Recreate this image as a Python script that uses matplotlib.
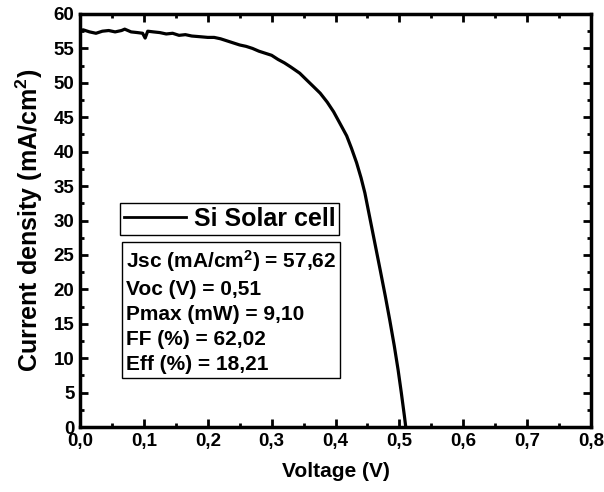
import matplotlib
matplotlib.use("Agg")
import matplotlib.pyplot as plt
from matplotlib.ticker import MultipleLocator, FuncFormatter
from matplotlib.lines import Line2D

plt.rcParams['font.family'] = ['Liberation Sans', 'DejaVu Sans']
plt.rcParams['font.weight'] = 'bold'
plt.rcParams['mathtext.fontset'] = 'custom'
plt.rcParams['mathtext.rm'] = 'Liberation Sans:bold'
plt.rcParams['mathtext.bf'] = 'Liberation Sans:bold'
plt.rcParams['mathtext.it'] = 'Liberation Sans:bold'
plt.rcParams['mathtext.default'] = 'bf'

voltage = [0.000, 0.005, 0.015, 0.025, 0.035, 0.045, 0.055, 0.065, 0.070, 0.080,
           0.090, 0.098, 0.102, 0.106, 0.115, 0.125, 0.135, 0.145, 0.155, 0.165,
           0.175, 0.188, 0.200, 0.210, 0.220, 0.230, 0.240, 0.250, 0.260, 0.270,
           0.280, 0.290, 0.300, 0.310, 0.320, 0.330, 0.344, 0.355, 0.365, 0.376,
           0.387, 0.397, 0.407, 0.4175, 0.425, 0.433, 0.440, 0.446, 0.452, 0.458,
           0.464, 0.470, 0.478, 0.485, 0.492, 0.498, 0.503, 0.508, 0.510]
current = [57.6, 57.7, 57.4, 57.2, 57.5, 57.6, 57.4, 57.6, 57.8, 57.4,
           57.3, 57.2, 56.5, 57.5, 57.4, 57.3, 57.1, 57.2, 56.9, 57.0,
           56.8, 56.7, 56.6, 56.6, 56.4, 56.1, 55.8, 55.5, 55.3, 55.0,
           54.6, 54.3, 54.0, 53.4, 52.9, 52.3, 51.4, 50.4, 49.5, 48.5,
           47.2, 45.8, 44.1, 42.3, 40.5, 38.4, 36.2, 34.0, 31.2, 28.4,
           25.6, 22.8, 19.0, 15.5, 11.8, 8.3, 5.0, 1.5, 0.0]

series_label = "Si Solar cell"
stats_lines = [r"Jsc (mA/cm$^{2}$) = 57,62",
               "Voc (V) = 0,51",
               "Pmax (mW) = 9,10",
               "FF (%) = 62,02",
               "Eff (%) = 18,21"]

fig = plt.figure(figsize=(6.04, 4.92), dpi=100)
ax = fig.add_axes([80/604, 65/492, 511/604, 413/492])

ax.plot(voltage, current, color='black', lw=2.3)

ax.set_xlim(0, 0.8)
ax.set_ylim(0, 60)
ax.xaxis.set_major_locator(MultipleLocator(0.1))
ax.xaxis.set_minor_locator(MultipleLocator(0.05))
ax.yaxis.set_major_locator(MultipleLocator(5))
ax.yaxis.set_minor_locator(MultipleLocator(2.5))
ax.xaxis.set_major_formatter(FuncFormatter(lambda v, p: f"{v:.1f}".replace('.', ',')))
ax.yaxis.set_major_formatter(FuncFormatter(lambda v, p: f"{int(round(v))}"))

ax.tick_params(which='both', direction='in', top=True, right=True, width=2, colors='black')
ax.tick_params(which='major', length=6, labelsize=13.5, pad=4)
ax.tick_params(which='minor', length=3)
for lab in ax.get_xticklabels() + ax.get_yticklabels():
    lab.set_fontweight('bold')
for s in ax.spines.values():
    s.set_linewidth(2.5)

ax.set_xlabel("Voltage (V)", fontsize=15, fontweight='bold', labelpad=9)
ax.set_ylabel(r"Current density (mA/cm$^{2}$)", fontsize=18, fontweight='bold', labelpad=6)

handle = Line2D([], [], color='black', lw=2.0)
leg = ax.legend([handle], [series_label], loc='upper left',
                bbox_to_anchor=((120-80)/511, (427-203)/413),
                frameon=True, fancybox=False, edgecolor='black', framealpha=1,
                prop={'size': 18, 'weight': 'bold'}, handlelength=2.5,
                handletextpad=0.3, borderpad=0.15, borderaxespad=0)
leg.get_frame().set_linewidth(1.0)

ax.text((126-80)/511, (427-248)/413, "\n".join(stats_lines), transform=ax.transAxes,
        ha='left', va='top', fontsize=15, fontweight='bold', linespacing=1.4,
        bbox=dict(boxstyle='square,pad=0.2', fc='white', ec='black', lw=1.0))

fig.savefig("out.png", dpi=100)
